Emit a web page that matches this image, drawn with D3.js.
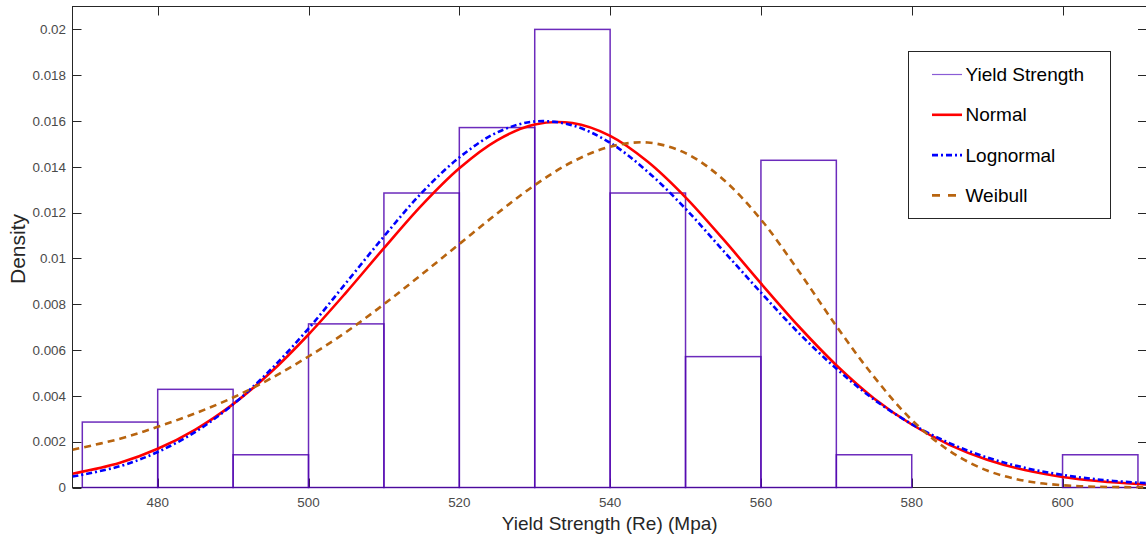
<!DOCTYPE html>
<html>
<head>
<meta charset="utf-8">
<script src="https://cdn.jsdelivr.net/npm/d3@7"></script>
<style>
  body { margin: 0; background: #fff; }
  svg { display: block; font-family: "Liberation Sans", Arial, Helvetica, sans-serif; }
</style>
</head>
<body>
<div id="container"></div>
<script>
// histogram bins (Yield Strength) and density per bin
const binEdges = [470, 480, 490, 500, 510, 520, 530, 540, 550, 560, 570, 580, 590, 600, 610];
const binDensity = [0.002857, 0.004286, 0.001429, 0.007143, 0.012857, 0.015714, 0.02,
  0.012857, 0.005714, 0.014286, 0.001429, 0, 0, 0.001429];

// fitted curves
const curveX = [468.7, 475, 480, 485, 490, 495, 500, 505, 510, 515, 520, 525, 530, 535, 540,
  545, 550, 555, 560, 565, 570, 575, 580, 585, 590, 595, 600, 605, 610, 611.2];
const normalY = [0.00060, 0.00108, 0.00169, 0.00253, 0.00364, 0.00503, 0.00668, 0.00852, 0.01045,
  0.01232, 0.01394, 0.01516, 0.01585, 0.01591, 0.01535, 0.01422, 0.01267, 0.01084, 0.00891, 0.00704,
  0.00534, 0.00389, 0.00275, 0.00186, 0.00121, 0.00076, 0.00046, 0.00027, 0.00015, 0.00013];
const lognormalY = [0.00048, 0.00093, 0.00155, 0.00243, 0.00363, 0.00515, 0.00694, 0.00894, 0.01096,
  0.01286, 0.01441, 0.01550, 0.01598, 0.01581, 0.01505, 0.01378, 0.01217, 0.01034, 0.00851, 0.00675,
  0.00519, 0.00384, 0.00277, 0.00194, 0.00131, 0.00086, 0.00055, 0.00034, 0.00021, 0.00019];
const weibullY = [0.00165, 0.00213, 0.00265, 0.00324, 0.00393, 0.00476, 0.00572, 0.00679, 0.00800,
  0.00930, 0.01063, 0.01196, 0.01320, 0.01422, 0.01488, 0.01506, 0.01460, 0.01345, 0.01170, 0.00945,
  0.00705, 0.00483, 0.00295, 0.00160, 0.00074, 0.00029, 0.00010, 0.00003, 0.00001, 0];

const xTicks = [480, 500, 520, 540, 560, 580, 600];
const yTicks = [0, 0.002, 0.004, 0.006, 0.008, 0.01, 0.012, 0.014, 0.016, 0.018, 0.02];
const yTickLabels = ["0", "0.002", "0.004", "0.006", "0.008", "0.01", "0.012", "0.014", "0.016", "0.018", "0.02"];

const legendNames = ["Yield Strength", "Normal", "Lognormal", "Weibull"];

const width = 1146;
const height = 537;
const plotLeft = 72.5, plotRight = 1147, plotTop = 6.5, plotBottom = 487.5;
const tickLen = 9;
const axisColor = "#262626";

const x = d3.scaleLinear().domain([468.7, 611.2]).range([plotLeft, plotRight]);
const y = d3.scaleLinear().domain([0, 0.021]).range([plotBottom, plotTop]);

const svg = d3.select("#container").append("svg")
  .attr("width", width)
  .attr("height", height);

// axis box + ticks
const axes = svg.append("g").attr("stroke", axisColor).attr("stroke-width", 1).attr("fill", "none");
axes.append("rect")
  .attr("x", plotLeft).attr("y", plotTop)
  .attr("width", plotRight - plotLeft).attr("height", plotBottom - plotTop);

yTicks.forEach(t => {
  const yy = Math.round(y(t)) + 0.5;
  axes.append("line").attr("x1", plotLeft).attr("x2", plotLeft + tickLen).attr("y1", yy).attr("y2", yy);
  axes.append("line").attr("x1", plotRight).attr("x2", plotRight - tickLen).attr("y1", yy).attr("y2", yy);
});
xTicks.forEach(t => {
  const xx = Math.round(x(t)) + 0.5;
  axes.append("line").attr("x1", xx).attr("x2", xx).attr("y1", plotBottom).attr("y2", plotBottom - tickLen);
  axes.append("line").attr("x1", xx).attr("x2", xx).attr("y1", plotTop).attr("y2", plotTop + tickLen);
});

// tick labels
svg.append("g").selectAll("text")
  .data(yTicks)
  .enter().append("text")
  .attr("x", plotLeft - 6.5)
  .attr("y", d => y(d))
  .attr("dy", "0.35em")
  .attr("text-anchor", "end")
  .attr("font-size", "13.4px")
  .attr("fill", "#4a4a4a")
  .text((d, i) => yTickLabels[i]);

svg.append("g").selectAll("text")
  .data(xTicks)
  .enter().append("text")
  .attr("x", d => x(d))
  .attr("y", 506.5)
  .attr("text-anchor", "middle")
  .attr("font-size", "13.4px")
  .attr("fill", "#4a4a4a")
  .text(d => d);

// axis titles
svg.append("text")
  .attr("x", (plotLeft + plotRight) / 2)
  .attr("y", 530)
  .attr("text-anchor", "middle")
  .attr("font-size", "19px")
  .attr("fill", "#262626")
  .text("Yield Strength (Re) (Mpa)");

svg.append("text")
  .attr("transform", "translate(25,249) rotate(-90)")
  .attr("text-anchor", "middle")
  .attr("font-size", "21px")
  .attr("fill", "#262626")
  .text("Density");

// clip to plot area
svg.append("clipPath").attr("id", "plot-clip")
  .append("rect")
  .attr("x", plotLeft).attr("y", plotTop)
  .attr("width", plotRight - plotLeft).attr("height", plotBottom - plotTop + 2);

const plot = svg.append("g").attr("clip-path", "url(#plot-clip)");

////////////// HISTOGRAM //////////////
plot.append("g").selectAll("rect")
  .data(binDensity)
  .enter().append("rect")
  .attr("x", (d, i) => x(binEdges[i]))
  .attr("y", d => y(d))
  .attr("width", (d, i) => x(binEdges[i + 1]) - x(binEdges[i]))
  .attr("height", d => y(0) - y(d))
  .attr("fill", "none")
  .attr("stroke", "#5206b0")
  .attr("stroke-opacity", 0.85)
  .attr("stroke-width", 1.5);

////////////// CURVES //////////////
const line = d3.line()
  .x(d => x(d[0]))
  .y(d => y(d[1]))
  .curve(d3.curveCatmullRom);

const series = [
  { values: normalY, color: "#ff0000", dash: null },
  { values: lognormalY, color: "#0000ff", dash: "6,3,2,3" },
  { values: weibullY, color: "#b8640f", dash: "7,5" }
];

series.forEach(s => {
  plot.append("path")
    .datum(curveX.map((v, i) => [v, s.values[i]]))
    .attr("d", line)
    .attr("fill", "none")
    .attr("stroke", s.color)
    .attr("stroke-width", 2.6)
    .attr("stroke-dasharray", s.dash);
});

////////////// LEGEND //////////////
const legend = svg.append("g");
legend.append("rect")
  .attr("x", 908.5).attr("y", 51.5)
  .attr("width", 202).attr("height", 167)
  .attr("fill", "#fff")
  .attr("stroke", axisColor)
  .attr("stroke-width", 1);

const legendStyles = [
  { color: "#8a5cd6", width: 1.2, dash: null },
  { color: "#ff0000", width: 2.6, dash: null },
  { color: "#0000ff", width: 2.6, dash: "6,3,2,3" },
  { color: "#b8640f", width: 2.6, dash: "8,8" }
];

legendNames.forEach((name, i) => {
  const cy = 74.5 + i * 40.3;
  legend.append("line")
    .attr("x1", 932).attr("x2", 962)
    .attr("y1", cy).attr("y2", cy)
    .attr("stroke", legendStyles[i].color)
    .attr("stroke-width", legendStyles[i].width)
    .attr("stroke-dasharray", legendStyles[i].dash);
  legend.append("text")
    .attr("x", 965.5)
    .attr("y", cy)
    .attr("dy", "0.35em")
    .attr("font-size", "19px")
    .attr("fill", "#000")
    .text(name);
});
</script>
</body>
</html>
